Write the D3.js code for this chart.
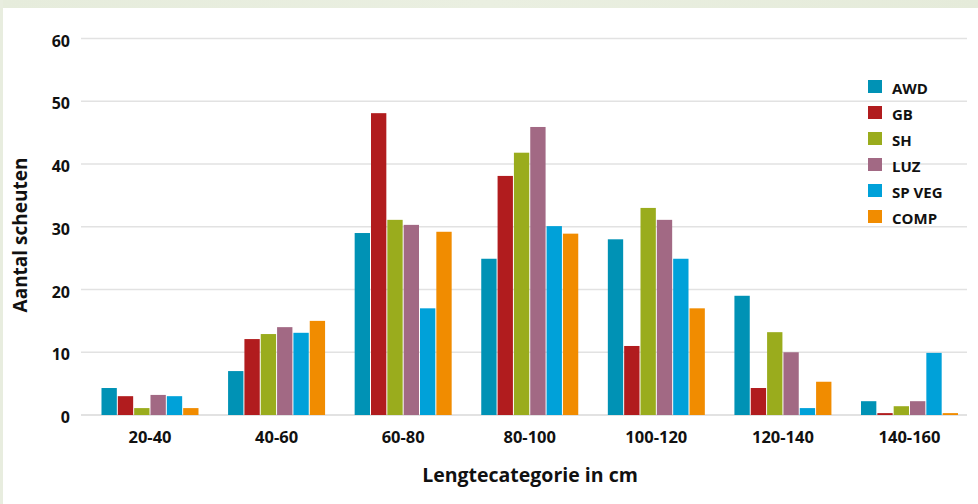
<!DOCTYPE html>
<html>
<head>
<meta charset="utf-8">
<script src="https://cdn.jsdelivr.net/npm/d3@7"></script>
<style>
  html, body { margin: 0; padding: 0; background: #fff; }
  svg { display: block; font-family: "Open Sans", sans-serif; }
</style>
</head>
<body>
<svg id="chart" width="978" height="504"></svg>
<script>
// Shoot counts per length class (cm) for each treatment
const categories = ["20-40", "40-60", "60-80", "80-100", "100-120", "120-140", "140-160"];
const seriesNames = ["AWD", "GB", "SH", "LUZ", "SP VEG", "COMP"];
const awd   = [4.3, 7.0, 29.0, 24.9, 28.0, 19.0, 2.2];
const gb    = [3.0, 12.1, 48.1, 38.1, 11.0, 4.3, 0.3];
const sh    = [1.1, 12.9, 31.1, 41.8, 33.0, 13.2, 1.4];
const luz   = [3.2, 14.0, 30.3, 45.9, 31.1, 10.0, 2.2];
const spveg = [3.0, 13.1, 17.0, 30.1, 24.9, 1.1, 9.9];
const comp  = [1.1, 15.0, 29.2, 28.9, 17.0, 5.3, 0.3];
const yTicks = [0, 10, 20, 30, 40, 50, 60];
const colors = ["#0092b5", "#b11c1e", "#9aac1d", "#a26984", "#00a1d9", "#f18c00"];

const seriesValues = [awd, gb, sh, luz, spveg, comp];

const svg = d3.select("#chart");

// Page frame: pale green strip along the top and left edge
svg.append("rect").attr("x", 0).attr("y", 0).attr("width", 978).attr("height", 504).attr("fill", "#fff");
const grad = svg.append("defs").append("linearGradient").attr("id", "frameGrad")
  .attr("x1", "0%").attr("x2", "100%");
grad.append("stop").attr("offset", "0%").attr("stop-color", "#e6ecdc");
grad.append("stop").attr("offset", "50%").attr("stop-color", "#eaefe1");
grad.append("stop").attr("offset", "100%").attr("stop-color", "#e5ebda");
svg.append("rect").attr("x", 0).attr("y", 0).attr("width", 978).attr("height", 8).attr("fill", "url(#frameGrad)");
svg.append("rect").attr("x", 0).attr("y", 0).attr("width", 3).attr("height", 504).attr("fill", "#e8eddf");

// Scales
const y = d3.scaleLinear().domain([0, 60]).range([415, 38.5]);
const x0 = d3.scaleBand().domain(categories).range([86.7, 972.8]).paddingInner(0).paddingOuter(0);
const groupWidth = 98;
const x1 = d3.scaleBand().domain(seriesNames)
  .range([(x0.bandwidth() - groupWidth) / 2, (x0.bandwidth() + groupWidth) / 2]);

const gridLeft = 81, gridRight = 967;

// Horizontal gridlines
svg.append("g").selectAll("line").data(yTicks).join("line")
  .attr("x1", gridLeft).attr("x2", gridRight)
  .attr("y1", d => y(d)).attr("y2", d => y(d))
  .attr("stroke", d => d === 0 ? "#d9d9d9" : "#e2e2e2")
  .attr("stroke-width", d => d === 0 ? 1.6 : 1.3);

// Y tick labels
svg.append("g").selectAll("text").data(yTicks).join("text")
  .attr("x", 70).attr("y", d => y(d) + 8)
  .attr("text-anchor", "end")
  .attr("font-size", 16).attr("font-weight", 700).attr("fill", "#111")
  .text(d => d);

// Bars
const groups = svg.append("g").selectAll("g").data(categories).join("g")
  .attr("transform", d => `translate(${x0(d)},0)`);
groups.selectAll("rect")
  .data((c, ci) => seriesNames.map((s, si) => ({ s, si, v: seriesValues[si][ci] })))
  .join("rect")
  .attr("x", d => x1(d.s) + 0.5)
  .attr("width", x1.bandwidth() - 1)
  .attr("y", d => y(d.v))
  .attr("height", d => y(0) - y(d.v))
  .attr("fill", d => colors[d.si]);

// X tick labels
svg.append("g").selectAll("text").data(categories).join("text")
  .attr("x", d => x0(d) + x0.bandwidth() / 2).attr("y", 443)
  .attr("text-anchor", "middle")
  .attr("font-size", 16.5).attr("font-weight", 700).attr("fill", "#111")
  .text(d => d);

// Axis titles
svg.append("text")
  .attr("x", 530).attr("y", 482)
  .attr("text-anchor", "middle")
  .attr("font-size", 19.5).attr("font-weight", 700).attr("fill", "#111")
  .text("Lengtecategorie in cm");

svg.append("text")
  .attr("transform", "translate(27,235) rotate(-90)")
  .attr("text-anchor", "middle")
  .attr("font-size", 19).attr("font-weight", 700).attr("fill", "#111")
  .text("Aantal scheuten");

// Legend
const legend = svg.append("g").attr("transform", "translate(868,80)");
const rows = legend.selectAll("g").data(seriesNames).join("g")
  .attr("transform", (d, i) => `translate(0,${i * 26})`);
rows.append("rect").attr("width", 14).attr("height", 13).attr("fill", (d, i) => colors[i]);
rows.append("text").attr("x", 24).attr("y", 13.5)
  .attr("font-size", 15).attr("font-weight", 700).attr("fill", "#111")
  .text(d => d);
</script>
</body>
</html>
